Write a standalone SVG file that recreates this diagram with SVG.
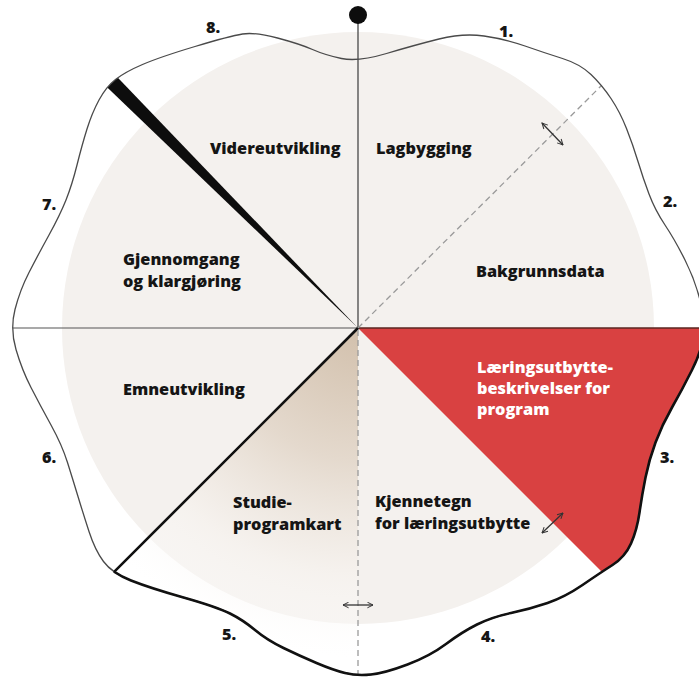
<svg xmlns="http://www.w3.org/2000/svg" width="699" height="677" viewBox="0 0 699 677">
<style>
.lbl{font-family:"Open Sans","Noto Sans","Liberation Sans",sans-serif;font-weight:800;font-size:16.3px;fill:#151515}
.wht{fill:#ffffff}
.thin{fill:none;stroke:#4a4a4a;stroke-width:1.3}
.thick{fill:none;stroke:#111;stroke-width:2.6;stroke-linecap:round}
.dash{fill:none;stroke:#9a9a9a;stroke-width:1.3;stroke-dasharray:6 4}
.arr{fill:none;stroke:#333;stroke-width:1.3;marker-start:url(#ah);marker-end:url(#ah)}
</style>
<defs>
<path id="outlinePath" d="M341.5,58.5 Q358,62 386.5,53.5 Q415,45 439,39 Q463,33 484,36 Q505,39 525,46 Q545,53 562.5,58.5 Q580,64 591,74.5 Q602,85 611,98.5 Q620,112 626.5,128.5 Q633,145 638,161.5 Q643,178 649,194 Q655,210 665,225 Q675,240 685,260 Q695,280 700,300 Q705,320 703.5,335 Q702,350 692,370 Q682,390 672,407.5 Q662,425 655.5,442.5 Q649,460 645.5,477.5 Q642,495 639.5,512.5 Q637,530 631,543.5 Q625,557 612.5,565 Q600,573 582.5,585 Q565,597 547.5,603 Q530,609 511,613 Q492,617 477,624.5 Q462,632 446,644 Q430,656 407.5,664.5 Q385,673 371,674.5 Q357,676 345,673 Q333,670 316.5,663 Q300,656 283.5,648 Q267,640 255,630 Q243,620 230,613.5 Q217,607 183.5,597.5 Q150,588 131,580.5 Q112,573 103.5,561.5 Q95,550 89,531.5 Q83,513 78,496.5 Q73,480 67.5,462.5 Q62,445 51,425 Q40,405 31,387.5 Q22,370 16,349.5 Q10,329 15,309.5 Q20,290 29,272.5 Q38,255 49,235 Q60,215 66,200 Q72,185 77,165 Q82,145 87,129 Q92,113 99,100 Q106,87 115.5,79.5 Q125,72 142.5,64.5 Q160,57 195,46.5 Q230,36 242.5,34 Q255,32 277.5,38 Q300,44 312.5,49.5 Q325,55 341.5,58.5 Z"/>
<clipPath id="shapeClip"><use href="#outlinePath"/></clipPath>
<radialGradient id="tan" gradientUnits="userSpaceOnUse" cx="358" cy="328" r="330">
<stop offset="0" stop-color="#d2c0ac"/>
<stop offset="0.4" stop-color="#e4d9cd"/>
<stop offset="0.75" stop-color="#f6f2ee" stop-opacity="0.8"/>
<stop offset="1" stop-color="#ffffff" stop-opacity="0.2"/>
</radialGradient>
<marker id="ah" viewBox="0 0 10 10" refX="9" refY="5" markerWidth="7" markerHeight="7" markerUnits="userSpaceOnUse" orient="auto-start-reverse">
<path d="M1,1 L9,5 L1,9" fill="none" stroke="#333" stroke-width="1.4"/>
</marker>
</defs>

<g id="background">
<circle cx="358" cy="328" r="296" fill="#f4f1ee"/>
<g clip-path="url(#shapeClip)">
<polygon id="red-sector" points="358,328 760,328 760,730" fill="#d94141"/>
<polygon id="gradient-sector" points="358,328 358,720 -34,720" fill="url(#tan)"/>
<polygon id="wedge" points="358,328 108.3,67.7 97.7,78.3" fill="#0d0d0d"/>
</g>
</g>

<g id="connectors">
<g clip-path="url(#shapeClip)">
<line x1="0" y1="328" x2="358" y2="328" stroke="#555" stroke-width="1.2"/>
<line x1="358" y1="328" x2="720" y2="328" stroke="#5a2620" stroke-width="1.6"/>
<line x1="358" y1="328" x2="-20" y2="706" class="thick"/>
</g>
<line x1="358" y1="15" x2="358" y2="328" stroke="#555" stroke-width="1.4"/>
<circle cx="358" cy="15" r="9" fill="#0d0d0d"/>
<line class="dash" x1="358" y1="328" x2="601.5" y2="85.5"/>
<line class="dash" x1="358" y1="330" x2="358" y2="675"/>
<line class="arr" x1="542" y1="123" x2="563" y2="145"/>
<line class="arr" x1="542" y1="533" x2="563" y2="513"/>
<line class="arr" x1="343" y1="605" x2="373" y2="605"/>
</g>

<g id="outline">
<use href="#outlinePath" class="thin"/>
<path class="thick" d="M703.5,335 Q702,350 692,370 Q682,390 672,407.5 Q662,425 655.5,442.5 Q649,460 645.5,477.5 Q642,495 639.5,512.5 Q637,530 631,543.5 Q625,557 612.5,565 Q600,573 582.5,585 Q565,597 547.5,603 Q530,609 511,613 Q492,617 477,624.5 Q462,632 446,644 Q430,656 407.5,664.5 Q385,673 371,674.5 Q357,676 345,673 Q333,670 316.5,663 Q300,656 283.5,648 Q267,640 255,630 Q243,620 230,613.5 Q217,607 183.5,597.5 Q150,588 131,580.5 Q121.5,576.75 114.6,572"/>
</g>

<g id="node-1"><text class="lbl" x="376" y="154">Lagbygging</text></g>
<g id="node-2"><text class="lbl" x="476" y="277">Bakgrunnsdata</text></g>
<g id="node-3"><text class="lbl wht" x="477" y="373">Læringsutbytte-</text><text class="lbl wht" x="477" y="394">beskrivelser for</text><text class="lbl wht" x="477" y="415">program</text></g>
<g id="node-4"><text class="lbl" x="375" y="507">Kjennetegn</text><text class="lbl" x="375" y="529">for læringsutbytte</text></g>
<g id="node-5"><text class="lbl" x="233" y="508">Studie-</text><text class="lbl" x="233" y="530">programkart</text></g>
<g id="node-6"><text class="lbl" x="123" y="395">Emneutvikling</text></g>
<g id="node-7"><text class="lbl" x="123" y="265">Gjennomgang</text><text class="lbl" x="123" y="287">og klargjøring</text></g>
<g id="node-8"><text class="lbl" x="210" y="154">Videreutvikling</text></g>

<g id="numbers">
<text class="lbl" x="499" y="37">1.</text>
<text class="lbl" x="663" y="207">2.</text>
<text class="lbl" x="660" y="463">3.</text>
<text class="lbl" x="481" y="642">4.</text>
<text class="lbl" x="222" y="640">5.</text>
<text class="lbl" x="42" y="463">6.</text>
<text class="lbl" x="42" y="210">7.</text>
<text class="lbl" x="206" y="33">8.</text>
</g>
</svg>
